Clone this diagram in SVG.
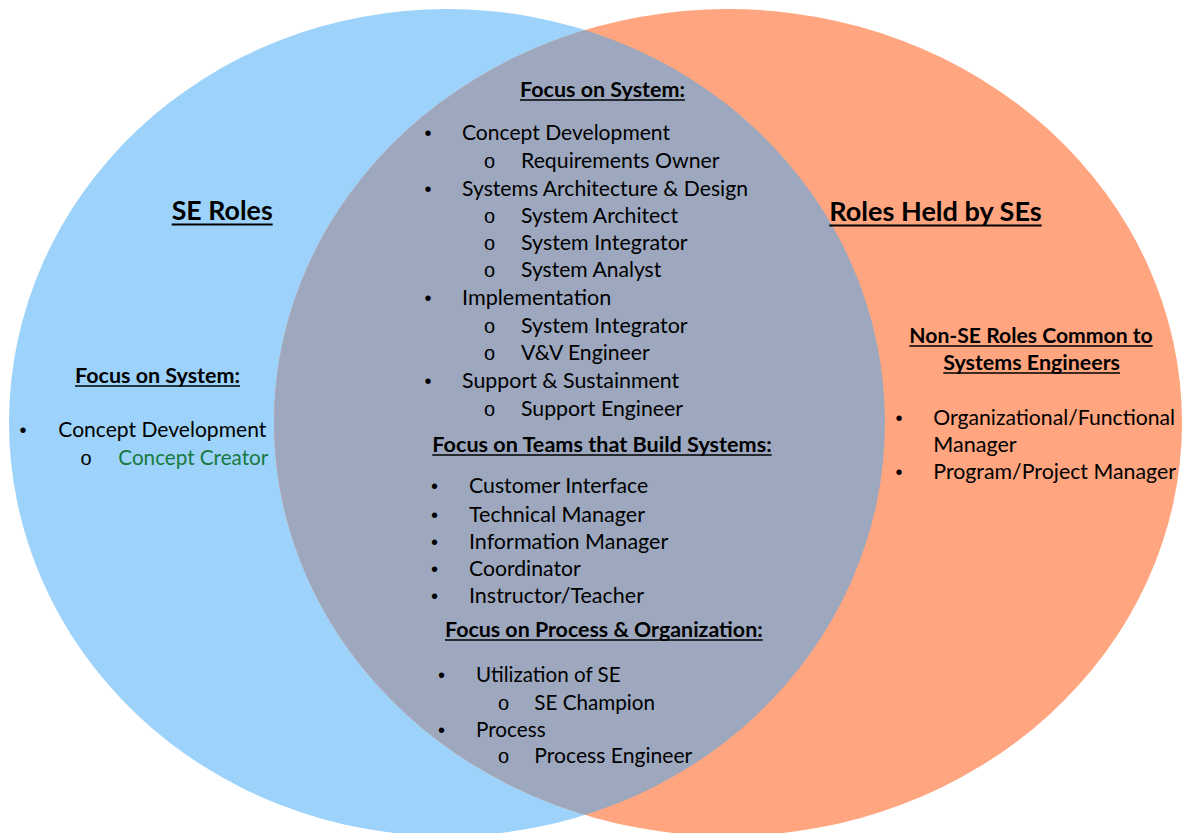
<svg xmlns="http://www.w3.org/2000/svg" width="1182" height="833" viewBox="0 0 1182 833">
<style>
text{font-family:Lato,"Open Sans","Liberation Sans",sans-serif;font-size:20.7px;fill:#000}
.h{font-weight:bold}
.big{font-size:26px;font-weight:bold}
.b{font-family:"Liberation Sans",sans-serif;font-size:20px}
.o{font-family:"Liberation Sans",sans-serif;font-size:20px;font-weight:normal}
.g{fill:#17793f}
.u{stroke:#000;stroke-width:1.6}
.ub{stroke:#000;stroke-width:2}
</style>
<defs>
<clipPath id="clipLeft"><ellipse cx="447" cy="422.5" rx="438" ry="413.5"/></clipPath>
</defs>
<g id="circles">
<ellipse id="left-circle" cx="447" cy="422.5" rx="438" ry="413.5" fill="#9dd3fb"/>
<ellipse id="right-circle" cx="728" cy="422.5" rx="454" ry="413.5" fill="#ffa57f"/>
<ellipse id="overlap" cx="728" cy="422.5" rx="454" ry="413.5" fill="#9da8bf" clip-path="url(#clipLeft)"/>
</g>
<g id="left-set">
<text class="big" x="171.7" y="220" textLength="101" lengthAdjust="spacingAndGlyphs">SE Roles</text>
<line class="ub" x1="171.7" y1="224.5" x2="272.7" y2="224.5"/>
<text class="h" x="75" y="383" textLength="165" lengthAdjust="spacingAndGlyphs">Focus on System:</text>
<line class="u" x1="75" y1="386" x2="240" y2="386"/>
<text class="b" x="19.5" y="437">•</text>
<text x="58.3" y="437" textLength="208" lengthAdjust="spacingAndGlyphs">Concept Development</text>
<text class="o" x="80.5" y="465">o</text>
<text class="g" x="118.3" y="465" textLength="150" lengthAdjust="spacingAndGlyphs">Concept Creator</text>
</g>
<g id="right-set">
<text class="big" x="829.3" y="221" textLength="212.4" lengthAdjust="spacingAndGlyphs">Roles Held by SEs</text>
<line class="ub" x1="829.3" y1="225.5" x2="1041.7" y2="225.5"/>
<text class="h" x="909.3" y="343" textLength="243.4" lengthAdjust="spacingAndGlyphs">Non-SE Roles Common to</text>
<line class="u" x1="909.3" y1="346" x2="1152.7" y2="346"/>
<text class="h" x="943.3" y="370" textLength="176.7" lengthAdjust="spacingAndGlyphs">Systems Engineers</text>
<line class="u" x1="943.3" y1="373" x2="1120" y2="373"/>
<text class="b" x="895.5" y="425">•</text>
<text x="933.3" y="425" textLength="241.7" lengthAdjust="spacingAndGlyphs">Organizational/Functional</text>
<text x="933.3" y="452" textLength="83.4" lengthAdjust="spacingAndGlyphs">Manager</text>
<text class="b" x="895.5" y="478.5">•</text>
<text x="933.3" y="478.5" textLength="242.7" lengthAdjust="spacingAndGlyphs">Program/Project Manager</text>
</g>
<g id="overlap-system">
<text class="h" x="520" y="97" textLength="165" lengthAdjust="spacingAndGlyphs">Focus on System:</text>
<line class="u" x1="520" y1="100" x2="685" y2="100"/>
<text class="b" x="424.5" y="140">•</text>
<text x="462" y="140" textLength="208" lengthAdjust="spacingAndGlyphs">Concept Development</text>
<text class="o" x="484" y="168">o</text>
<text x="521" y="168" textLength="198.6" lengthAdjust="spacingAndGlyphs">Requirements Owner</text>
<text class="b" x="424.5" y="196">•</text>
<text x="462" y="196" textLength="286" lengthAdjust="spacingAndGlyphs">Systems Architecture &amp; Design</text>
<text class="o" x="484" y="223">o</text>
<text x="521" y="223" textLength="157" lengthAdjust="spacingAndGlyphs">System Architect</text>
<text class="o" x="484" y="250">o</text>
<text x="521" y="250" textLength="166.6" lengthAdjust="spacingAndGlyphs">System Integrator</text>
<text class="o" x="484" y="277">o</text>
<text x="521" y="277" textLength="140.3" lengthAdjust="spacingAndGlyphs">System Analyst</text>
<text class="b" x="424.5" y="305">•</text>
<text x="462" y="305" textLength="149.3" lengthAdjust="spacingAndGlyphs">Implementation</text>
<text class="o" x="484" y="333">o</text>
<text x="521" y="333" textLength="166.6" lengthAdjust="spacingAndGlyphs">System Integrator</text>
<text class="o" x="484" y="360">o</text>
<text x="521" y="360" textLength="128.6" lengthAdjust="spacingAndGlyphs">V&amp;V Engineer</text>
<text class="b" x="424.5" y="388">•</text>
<text x="462" y="388" textLength="217.3" lengthAdjust="spacingAndGlyphs">Support &amp; Sustainment</text>
<text class="o" x="484" y="416">o</text>
<text x="521" y="416" textLength="162" lengthAdjust="spacingAndGlyphs">Support Engineer</text>
</g>
<g id="overlap-teams">
<text class="h" x="432.3" y="452" textLength="339.4" lengthAdjust="spacingAndGlyphs">Focus on Teams that Build Systems:</text>
<line class="u" x1="432.3" y1="455" x2="771.7" y2="455"/>
<text class="b" x="431" y="493">•</text>
<text x="469" y="493" textLength="179.3" lengthAdjust="spacingAndGlyphs">Customer Interface</text>
<text class="b" x="431" y="521.5">•</text>
<text x="469" y="521.5" textLength="176" lengthAdjust="spacingAndGlyphs">Technical Manager</text>
<text class="b" x="431" y="549">•</text>
<text x="469" y="549" textLength="199.3" lengthAdjust="spacingAndGlyphs">Information Manager</text>
<text class="b" x="431" y="575.5">•</text>
<text x="469" y="575.5" textLength="111.7" lengthAdjust="spacingAndGlyphs">Coordinator</text>
<text class="b" x="431" y="603">•</text>
<text x="469" y="603" textLength="175" lengthAdjust="spacingAndGlyphs">Instructor/Teacher</text>
</g>
<g id="overlap-process">
<text class="h" x="445" y="637" textLength="317.7" lengthAdjust="spacingAndGlyphs">Focus on Process &amp; Organization:</text>
<line class="u" x1="445" y1="640" x2="762.7" y2="640"/>
<text class="b" x="438" y="681.5">•</text>
<text x="476" y="681.5" textLength="144.7" lengthAdjust="spacingAndGlyphs">Utilization of SE</text>
<text class="o" x="498" y="710">o</text>
<text x="534.3" y="710" textLength="120.7" lengthAdjust="spacingAndGlyphs">SE Champion</text>
<text class="b" x="438" y="736.5">•</text>
<text x="476" y="736.5" textLength="69.7" lengthAdjust="spacingAndGlyphs">Process</text>
<text class="o" x="498" y="763">o</text>
<text x="534.3" y="763" textLength="158" lengthAdjust="spacingAndGlyphs">Process Engineer</text>
</g>
</svg>
